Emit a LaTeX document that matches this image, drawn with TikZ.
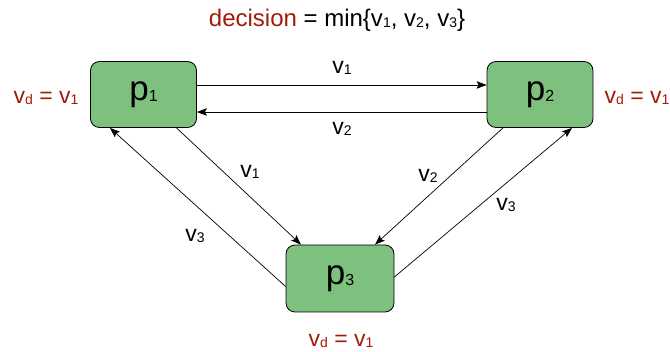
\documentclass[tikz,border=0pt]{standalone}
\usepackage{fontspec}
\setmainfont{Liberation Sans}
\usetikzlibrary{arrows.meta}
\definecolor{dred}{RGB}{160,28,10}
\definecolor{pgreen}{RGB}{126,192,126}
\newcommand\sbs[1]{{\fontsize{14}{14}\selectfont\raisebox{-0.8pt}{#1}}}
\newcommand\sbb[1]{{\fontsize{16}{16}\selectfont\raisebox{-1pt}{#1}}}
\tikzset{
  proc/.style={draw=black, line width=0.8pt, fill=pgreen, rounded corners=9pt, minimum width=106pt, minimum height=66pt, inner sep=0pt, font=\fontsize{35}{35}\selectfont},
  arr/.style={-{Stealth[length=10pt,width=7.5pt,inset=2pt]}, line width=0.7pt},
  elab/.style={font=\fontsize{23}{23}\selectfont, inner sep=0pt},
  rlab/.style={text=dred, font=\fontsize{23}{23}\selectfont, inner sep=0pt}
}
\begin{document}
\begin{tikzpicture}[x=1pt,y=-1pt]
\useasboundingbox (0,0) rectangle (670,352);
\node[proc] (p1) at (143.5,94.5) {p\sbb{1}};
\node[proc] (p2) at (540,94.5) {p\sbb{2}};
\node[proc, minimum width=108pt, minimum height=67pt] (p3) at (340,278.5) {p\sbb{3}};

\node[font=\fontsize{24}{24}\selectfont, inner sep=0pt] (title) at (337,20) {\textcolor{dred}{decision} = min\{v\sbs{1}, v\sbs{2}, v\sbs{3}\}};

\node[rlab] (l1) at (46,98) {v\sbs{d} = v\sbs{1}};
\node[rlab] (l2) at (637,98) {v\sbs{d} = v\sbs{1}};
\node[rlab] (l3) at (341,341) {v\sbs{d} = v\sbs{1}};

\draw[arr] ([yshift=9.5pt]p1.east) -- ([yshift=9.5pt]p2.west);
\draw[arr] ([yshift=-17.5pt]p2.west) -- ([yshift=-17.5pt]p1.east);
\draw[arr] ([xshift=33pt]p1.south) -- ([xshift=-39pt]p3.north);
\draw[arr] ([yshift=-8pt]p3.west) -- ([xshift=-33.5pt]p1.south);
\draw[arr] ([xshift=-37pt]p2.south) -- ([xshift=35pt]p3.north);
\draw[arr] ([yshift=1.5pt]p3.east) -- ([xshift=32pt]p2.south);

\node[elab] (e1) at (342,68) {v\sbs{1}};
\node[elab] (e2) at (342,129) {v\sbs{2}};
\node[elab] (e3) at (250,172) {v\sbs{1}};
\node[elab] (e4) at (195,236) {v\sbs{3}};
\node[elab] (e5) at (428,176) {v\sbs{2}};
\node[elab] (e6) at (506,205) {v\sbs{3}};
\end{tikzpicture}
\end{document}
